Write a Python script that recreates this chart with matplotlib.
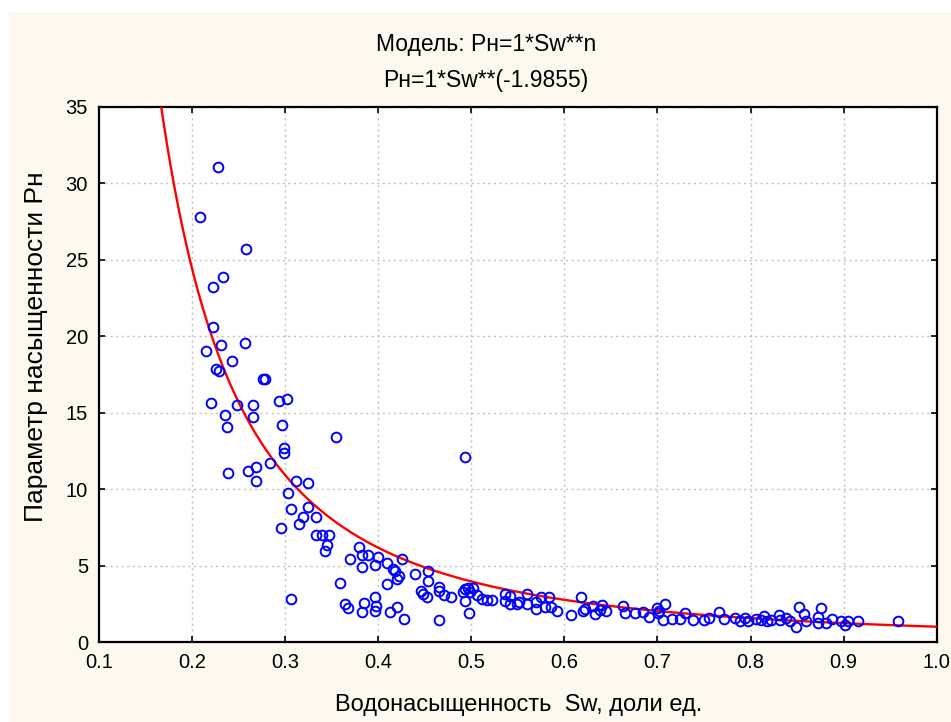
import numpy as np
import matplotlib.pyplot as plt
from matplotlib.patches import Rectangle

# водонасыщенность, доли ед.
sw = [
    0.228, 0.209, 0.258, 0.233, 0.222, 0.222, 0.257, 0.231, 0.215, 0.243,
    0.226, 0.229, 0.276, 0.278, 0.220, 0.248, 0.265, 0.293, 0.302, 0.235,
    0.265, 0.237, 0.297, 0.355, 0.299, 0.299, 0.284, 0.239, 0.260, 0.269,
    0.269, 0.312, 0.325, 0.303, 0.325, 0.306, 0.319, 0.333, 0.315, 0.295,
    0.493, 0.333, 0.340, 0.347, 0.345, 0.343, 0.306, 0.379, 0.370, 0.383,
    0.389, 0.400, 0.383, 0.396, 0.409, 0.426, 0.416, 0.418, 0.422, 0.420,
    0.409, 0.359, 0.439, 0.454, 0.454, 0.446, 0.448, 0.452, 0.465, 0.465,
    0.471, 0.478, 0.493, 0.496, 0.502, 0.491, 0.499, 0.493, 0.497, 0.364,
    0.368, 0.385, 0.383, 0.396, 0.398, 0.396, 0.420, 0.413, 0.428, 0.465,
    0.506, 0.517, 0.522, 0.536, 0.536, 0.542, 0.542, 0.549, 0.551, 0.560,
    0.560, 0.570, 0.570, 0.575, 0.579, 0.583, 0.586, 0.592, 0.607, 0.618,
    0.620, 0.622, 0.631, 0.633, 0.640, 0.638, 0.645, 0.663, 0.665, 0.676,
    0.684, 0.691, 0.700, 0.708, 0.701, 0.706, 0.716, 0.724, 0.730, 0.738,
    0.750, 0.755, 0.766, 0.771, 0.783, 0.789, 0.794, 0.797, 0.806, 0.811,
    0.814, 0.818, 0.822, 0.831, 0.832, 0.838, 0.842, 0.849, 0.852, 0.857,
    0.860, 0.873, 0.876, 0.873, 0.881, 0.887, 0.897, 0.901, 0.905, 0.915,
    0.958, 0.702, 0.511,
]

# параметр насыщенности Рн
pn = [
    31.07, 27.78, 25.71, 23.88, 23.22, 20.61, 19.58, 19.45, 19.04, 18.38,
    17.88, 17.73, 17.21, 17.21, 15.65, 15.50, 15.52, 15.79, 15.90, 14.85,
    14.70, 14.07, 14.20, 13.41, 12.67, 12.36, 11.71, 11.06, 11.21, 11.47,
    10.55, 10.55, 10.40, 9.75, 8.85, 8.72, 8.20, 8.20, 7.70, 7.48,
    12.12, 7.00, 7.00, 7.00, 6.35, 5.97, 2.81, 6.23, 5.45, 5.69,
    5.69, 5.58, 4.93, 5.06, 5.19, 5.45, 4.80, 4.66, 4.32, 4.14,
    3.77, 3.88, 4.43, 4.66, 4.01, 3.36, 3.14, 2.96, 3.62, 3.36,
    3.07, 2.96, 3.45, 3.51, 3.51, 3.25, 3.25, 2.68, 1.92, 2.49,
    2.20, 2.57, 1.94, 2.96, 2.36, 2.05, 2.31, 1.94, 1.52, 1.42,
    3.07, 2.73, 2.73, 3.14, 2.68, 3.03, 2.47, 2.47, 2.64, 3.14,
    2.47, 2.64, 2.16, 2.92, 2.31, 2.92, 2.31, 2.03, 1.79, 2.96,
    2.03, 2.18, 2.37, 1.81, 2.40, 2.09, 2.03, 2.36, 1.92, 1.92,
    1.98, 1.66, 2.24, 2.47, 1.88, 1.42, 1.52, 1.52, 1.88, 1.42,
    1.44, 1.55, 1.98, 1.50, 1.55, 1.39, 1.55, 1.39, 1.50, 1.44,
    1.70, 1.39, 1.44, 1.77, 1.44, 1.55, 1.39, 0.96, 2.31, 1.83,
    1.39, 1.66, 2.20, 1.22, 1.22, 1.50, 1.39, 1.11, 1.39, 1.39,
    1.39, 2.03, 2.79,
]

n = -1.9855
x_ticks = [0.1, 0.2, 0.3, 0.4, 0.5, 0.6, 0.7, 0.8, 0.9, 1.0]
x_tick_labels = ['0.1', '0.2', '0.3', '0.4', '0.5', '0.6', '0.7', '0.8', '0.9', '1.0']
y_ticks = [0, 5, 10, 15, 20, 25, 30, 35]

plt.rcParams['font.family'] = ['Liberation Sans', 'DejaVu Sans']

fig = plt.figure(figsize=(9.51, 7.22), dpi=100, facecolor='white')
fig.patches.append(Rectangle((9 / 951, 0), 1, 1 - 12 / 722,
                             transform=fig.transFigure, facecolor='#fdf9ef',
                             edgecolor='none', zorder=-10))
ax = fig.add_axes([99 / 951, 80 / 722, 837.7 / 951, 535 / 722])
ax.set_facecolor('white')

_x = np.linspace(0.16, 1.0, 400)
ax.plot(_x, _x ** n, color='red', lw=1.7, zorder=3)
ax.plot(sw, pn, ls='none', marker='o', ms=7, mfc='none', mec='blue',
        mew=1.4, zorder=4)

ax.set_xlim(0.1, 1.0)
ax.set_ylim(0, 35)
ax.set_xticks(x_ticks)
ax.set_xticklabels(x_tick_labels)
ax.set_yticks(y_ticks)
ax.grid(True, color='#c0c0c0', ls=(0, (1.5, 2.5)), lw=1.0)
ax.tick_params(direction='in', length=4, width=1.2, top=True, right=True,
               labelsize=14.5)
ax.tick_params(axis='x', pad=8)
ax.tick_params(axis='y', pad=8)
for s in ax.spines.values():
    s.set_linewidth(1.6)

ax.set_xlabel('Водонасыщенность  Sw, доли ед.', fontsize=17, va='center')
ax.xaxis.set_label_coords(0.5 * (332 + 705 - 2 * 99) / 837.7, (642 - 705) / 535)
ax.set_ylabel('Параметр насыщенности Pн', fontsize=19, va='center')
ax.yaxis.set_label_coords((36 - 99) / 837.7, (642 - 347) / 535)

fig.text(486 / 951, 1 - 45 / 722, 'Модель: Pн=1*Sw**n',
         ha='center', va='center', fontsize=16.5)
fig.text(486 / 951, 1 - 80 / 722, 'Pн=1*Sw**(-1.9855)',
         ha='center', va='center', fontsize=16.5)

plt.savefig('out.png', dpi=100, facecolor=fig.get_facecolor())
